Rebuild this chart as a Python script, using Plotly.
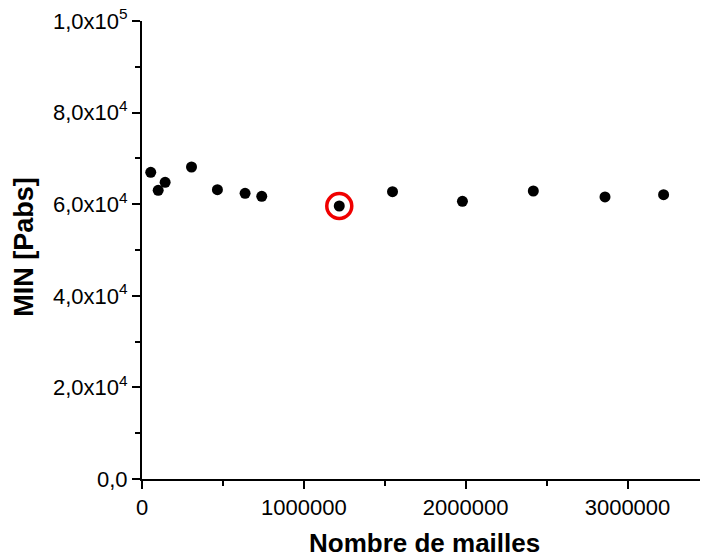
import plotly.graph_objects as go

# Data
nombre_de_mailles = [54000, 100000, 143000, 306000, 466000, 637000, 740000,
                     1219000, 1548000, 1980000, 2418000, 2861000, 3223000]
min_pabs = [66950, 63030, 64780, 68120, 63180, 62380, 61720,
            59610, 62740, 60630, 62880, 61580, 62090]
highlight_index = 7

y_tick_vals = [0, 20000, 40000, 60000, 80000, 100000]
y_tick_text = ["0,0", "2,0x10<sup>4</sup>", "4,0x10<sup>4</sup>", "6,0x10<sup>4</sup>",
               "8,0x10<sup>4</sup>", "1,0x10<sup>5</sup>"]
y_minor_vals = [10000, 30000, 50000, 70000, 90000]
x_tick_vals = [0, 1000000, 2000000, 3000000]
x_tick_text = ["0", "1000000", "2000000", "3000000"]
x_minor_vals = [500000, 1500000, 2500000]

FONT = "Liberation Sans, Arial, sans-serif"

fig = go.Figure()
fig.add_trace(go.Scatter(
    x=nombre_de_mailles, y=min_pabs, mode="markers",
    marker=dict(color="black", size=11, line=dict(width=0)),
    showlegend=False, cliponaxis=False,
))
fig.add_trace(go.Scatter(
    x=[nombre_de_mailles[highlight_index]], y=[min_pabs[highlight_index]],
    mode="markers",
    marker=dict(symbol="circle-open", color="rgb(240,0,0)", size=25,
                line=dict(width=3.5, color="rgb(240,0,0)")),
    showlegend=False, cliponaxis=False,
))

L, R, T, B = 141.5, 1, 20.5, 78
W, H = 701, 557
fig.update_layout(
    width=W, height=H, autosize=False,
    margin=dict(l=L, r=R, t=T, b=B, pad=0),
    plot_bgcolor="white", paper_bgcolor="white",
    font=dict(family=FONT, color="black", size=22),
    xaxis=dict(
        range=[0, 3448000], showgrid=False, zeroline=False,
        showline=True, linecolor="black", linewidth=2,
        ticks="outside", ticklen=8, tickwidth=2, tickcolor="black",
        tickmode="array", tickvals=x_tick_vals, ticktext=x_tick_text,
        tickfont=dict(family=FONT, size=22, color="black"),
        minor=dict(tickmode="array", tickvals=x_minor_vals, ticks="outside",
                   ticklen=5, tickwidth=2, tickcolor="black"),
        automargin=False,
    ),
    yaxis=dict(
        range=[0, 100000], showgrid=False, zeroline=False,
        showline=True, linecolor="black", linewidth=2,
        ticks="outside", ticklen=8, tickwidth=2, tickcolor="black",
        tickmode="array", tickvals=y_tick_vals, ticktext=y_tick_text,
        tickfont=dict(family=FONT, size=22, color="black"),
        minor=dict(tickmode="array", tickvals=y_minor_vals, ticks="outside",
                   ticklen=5, tickwidth=2, tickcolor="black"),
        automargin=False,
    ),
    annotations=[
        dict(text="<b>Nombre de mailles</b>", xref="paper", yref="paper",
             x=(424.5 - L) / (W - L - R), y=0, xanchor="center", yanchor="middle",
             yshift=-(543 - 479), showarrow=False,
             font=dict(family=FONT, size=26, color="black")),
        dict(text="<b>MIN [Pabs]</b>", xref="paper", yref="paper",
             x=0, y=(479 - 247) / (479 - 20.5), xanchor="center", yanchor="middle",
             xshift=24 - L, textangle=-90, showarrow=False,
             font=dict(family=FONT, size=27, color="black")),
    ],
)

post = ("document.documentElement.style.margin='0';"
        "document.body.style.margin='0';document.body.style.padding='0';"
        "document.body.style.overflow='hidden';"
        "var gd=document.getElementById('{plot_id}');"
        "Plotly.relayout(gd,{width:701,height:557});")
fig.write_html("out.html", post_script=post,
               config={"responsive": False, "displayModeBar": False})
